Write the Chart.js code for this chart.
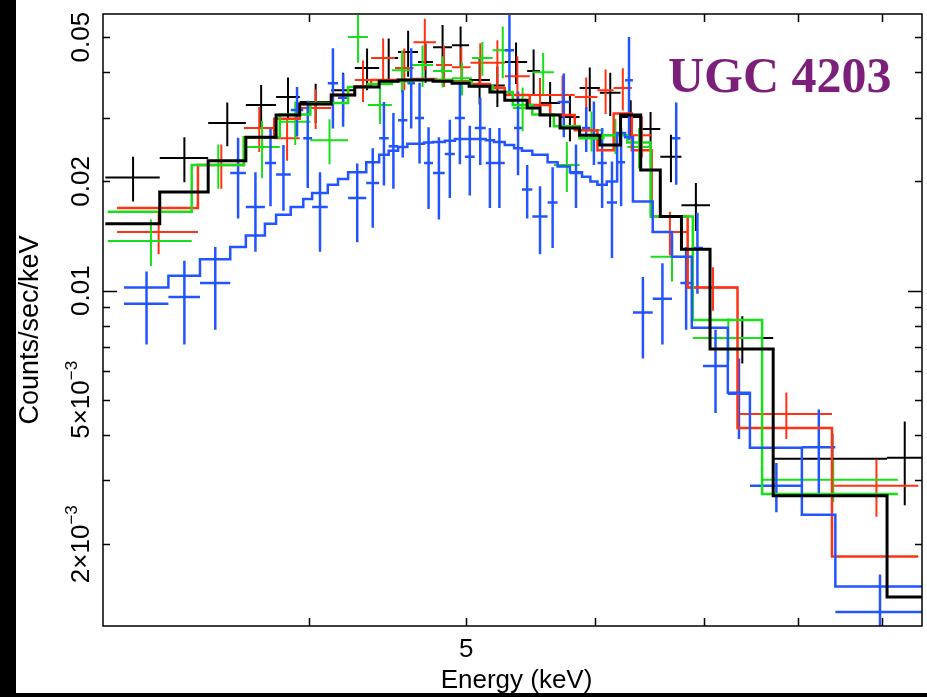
<!DOCTYPE html>
<html>
<head>
<meta charset="utf-8">
<title>UGC 4203</title>
<script src="https://cdn.jsdelivr.net/npm/chart.js@4.4.1/dist/chart.umd.min.js"></script>
<style>
    html, body { margin: 0; padding: 0; background: #000; width: 927px; height: 697px; overflow: hidden; }
    #wrap { position: absolute; left: 16px; top: 0; width: 911px; height: 693px; background: #fff; }
</style>
</head>
<body>
<div id="wrap"><canvas id="spectrum"></canvas></div>
<script>
// Energy bin edges (keV), count rates, errors and folded model per group
const blackEdges = [3.00, 3.24, 3.47, 3.66, 3.82, 3.95, 4.13, 4.27, 4.42, 4.54, 4.67, 4.77, 4.90, 5.02, 5.17, 5.28, 5.45, 5.55, 5.71, 5.87, 6.04, 6.22, 6.40, 6.58, 6.78, 7.06, 7.72, 9.07, 9.53];
const blackRate = [0.0205, 0.0232, 0.0290, 0.0325, 0.0342, 0.0331, 0.0357, 0.0411, 0.0438, 0.0455, 0.0427, 0.0469, 0.0475, 0.0381, 0.0368, 0.0427, 0.0403, 0.0329, 0.0301, 0.0362, 0.0351, 0.0301, 0.0279, 0.0234, 0.0172, 0.0074, 0.00344, 0.00346];
const blackErr = [0.0029, 0.0033, 0.0040, 0.0044, 0.0045, 0.0041, 0.0042, 0.0054, 0.0058, 0.0066, 0.0053, 0.0071, 0.0060, 0.0055, 0.0047, 0.0056, 0.0059, 0.0047, 0.0043, 0.0050, 0.0048, 0.0034, 0.0032, 0.0035, 0.0026, 0.0011, 0.0006, 0.0009];
const blackModel = [0.0153, 0.0187, 0.0228, 0.0265, 0.0305, 0.0327, 0.0346, 0.0364, 0.0378, 0.0381, 0.0381, 0.0378, 0.0373, 0.0366, 0.0353, 0.0335, 0.0319, 0.0305, 0.0281, 0.0268, 0.0252, 0.0305, 0.0215, 0.0160, 0.0130, 0.0069, 0.00272, 0.00143];

const redEdges = [3.05, 3.42, 3.65, 3.81, 3.95, 4.13, 4.27, 4.37, 4.52, 4.64, 4.79, 4.90, 5.03, 5.17, 5.28, 5.47, 5.63, 5.83, 6.02, 6.16, 6.32, 6.50, 6.84, 7.34, 8.39, 9.48];
const redRate = [0.0145, 0.0222, 0.0281, 0.0263, 0.0319, 0.0346, 0.0381, 0.0438, 0.0411, 0.0484, 0.0419, 0.0413, 0.0425, 0.0425, 0.0390, 0.0346, 0.0346, 0.0342, 0.0357, 0.0362, 0.0268, 0.0145, 0.0102, 0.00457, 0.0029];
const redErr = [0.0019, 0.0031, 0.0040, 0.0035, 0.0040, 0.0045, 0.0050, 0.0058, 0.0054, 0.0078, 0.0055, 0.0055, 0.0056, 0.0065, 0.0053, 0.0040, 0.0045, 0.0045, 0.0050, 0.0048, 0.0035, 0.0020, 0.0014, 0.00067, 0.00052];
const redModel = [0.0169, 0.0222, 0.0265, 0.0298, 0.0327, 0.0346, 0.0366, 0.0381, 0.0381, 0.0383, 0.0381, 0.0378, 0.0371, 0.0362, 0.0346, 0.0325, 0.0305, 0.0277, 0.0244, 0.0308, 0.0244, 0.0160, 0.0102, 0.00418, 0.00185];

const greenEdges = [3.01, 3.39, 3.65, 3.84, 4.01, 4.23, 4.35, 4.50, 4.63, 4.77, 4.90, 5.04, 5.19, 5.34, 5.49, 5.66, 5.87, 6.07, 6.28, 6.49, 6.89, 7.60, 9.21];
const greenRate = [0.0137, 0.0222, 0.0249, 0.0292, 0.0260, 0.0500, 0.0325, 0.0405, 0.0419, 0.0403, 0.0385, 0.0438, 0.0460, 0.0319, 0.0400, 0.0222, 0.0277, 0.0268, 0.0249, 0.0124, 0.0074, 0.00301];
const greenErr = [0.0020, 0.0031, 0.0045, 0.0040, 0.0037, 0.0075, 0.0037, 0.0054, 0.0055, 0.0040, 0.0040, 0.0047, 0.0075, 0.0044, 0.0052, 0.0035, 0.0035, 0.0030, 0.0032, 0.0018, 0.0010, 0.0004];
const greenModel = [0.0165, 0.0222, 0.0265, 0.0306, 0.0329, 0.0364, 0.0371, 0.0378, 0.0381, 0.0381, 0.0376, 0.0366, 0.0353, 0.0325, 0.0306, 0.0284, 0.0263, 0.0268, 0.0256, 0.0160, 0.0083, 0.00275];

const blueEdges = [3.08, 3.28, 3.43, 3.58, 3.66, 3.76, 3.82, 3.90, 3.97, 4.02, 4.11, 4.17, 4.23, 4.34, 4.42, 4.48, 4.54, 4.60, 4.65, 4.71, 4.77, 4.85, 4.92, 4.99, 5.06, 5.14, 5.20, 5.28, 5.35, 5.41, 5.49, 5.61, 5.69, 5.79, 5.89, 5.96, 6.02, 6.10, 6.19, 6.26, 6.33, 6.51, 6.69, 6.77, 6.88, 6.99, 7.24, 7.47, 8.04, 8.43, 9.53];
const blueRate = [0.0092, 0.0096, 0.0105, 0.0211, 0.0170, 0.0225, 0.0209, 0.0315, 0.0263, 0.0170, 0.0373, 0.0340, 0.0180, 0.0198, 0.0263, 0.0250, 0.0295, 0.0373, 0.0299, 0.0225, 0.0211, 0.0238, 0.0299, 0.0234, 0.0281, 0.0225, 0.0225, 0.0460, 0.0281, 0.0190, 0.0160, 0.0175, 0.0331, 0.0211, 0.0281, 0.0277, 0.0225, 0.0175, 0.0226, 0.0380, 0.0087, 0.0095, 0.0263, 0.0105, 0.0131, 0.0062, 0.0052, 0.0029, 0.0037, 0.0013];
const blueErr = [0.0021, 0.0025, 0.0027, 0.0053, 0.0042, 0.0054, 0.0043, 0.0049, 0.0071, 0.0042, 0.0093, 0.0057, 0.0044, 0.0049, 0.0068, 0.0059, 0.0062, 0.0093, 0.0075, 0.0057, 0.0054, 0.0058, 0.0076, 0.0051, 0.0059, 0.0056, 0.0056, 0.0115, 0.0073, 0.0032, 0.0034, 0.0044, 0.0066, 0.0042, 0.0040, 0.0055, 0.0056, 0.0052, 0.0055, 0.0120, 0.0022, 0.0024, 0.0067, 0.0027, 0.0033, 0.0016, 0.0013, 0.00045, 0.0010, 0.00035];
const blueModel = [0.0102, 0.0110, 0.0122, 0.0132, 0.0142, 0.0153, 0.0162, 0.0170, 0.0179, 0.0186, 0.0196, 0.0203, 0.0212, 0.0226, 0.0237, 0.0243, 0.0249, 0.0254, 0.0254, 0.0256, 0.0257, 0.0259, 0.0262, 0.0262, 0.0262, 0.0260, 0.0257, 0.0252, 0.0247, 0.0243, 0.0237, 0.0226, 0.0220, 0.0212, 0.0206, 0.0200, 0.0196, 0.0200, 0.0272, 0.0265, 0.0176, 0.0145, 0.0124, 0.0124, 0.0079, 0.0079, 0.00523, 0.00369, 0.00241, 0.00153];

// Axis ticks
const xTickVals = [4, 5, 6, 7, 8, 9];
const xTickText = ['', '5', '', '', '', ''];
const yTickVals = [0.002, 0.003, 0.004, 0.005, 0.006, 0.007, 0.008, 0.009, 0.01, 0.02, 0.03, 0.04, 0.05];
const yMajorVals = [0.01];
const yLabelVals = [0.05, 0.02, 0.01, 0.005, 0.002];
const yLabelText = ['0.05', '0.02', '0.01', '5\u00d710', '2\u00d710'];
const yLabelExp = ['', '', '', '\u22123', '\u22123'];

const SANS = '"Liberation Sans", Arial, sans-serif';

// data crosshairs: horizontal bar = bin width, vertical bar = error
function crosses(edges, rate, err) {
    const pts = [];
    rate.forEach((r, i) => {
        const lo = edges[i], hi = edges[i + 1], mid = (lo + hi) / 2;
        pts.push({x: lo, y: r}, {x: hi, y: r}, {x: hi, y: null});
        pts.push({x: mid, y: r - err[i]}, {x: mid, y: r + err[i]}, {x: mid, y: null});
    });
    return pts;
}

// model histogram
function steps(edges, model) {
    const pts = model.map((m, i) => ({x: edges[i], y: m}));
    pts.push({x: edges[edges.length - 1], y: model[model.length - 1]});
    return pts;
}

function dataSet(edges, rate, err, color, width, order) {
    return {
        data: crosses(edges, rate, err),
        borderColor: color, borderWidth: width, pointRadius: 0,
        spanGaps: false, order: order
    };
}

function modelSet(edges, model, color, width, order) {
    return {
        data: steps(edges, model),
        borderColor: color, borderWidth: width, pointRadius: 0,
        stepped: true, order: order
    };
}

// frame, inward ticks, labels and titles
const framePlugin = {
    id: 'frame',
    afterDatasetsDraw(chart) {
        const ctx = chart.ctx;
        const a = chart.chartArea;
        const xs = chart.scales.x, ys = chart.scales.y;
        ctx.save();
        ctx.strokeStyle = '#000';
        ctx.lineWidth = 1.5;
        ctx.strokeRect(a.left, a.top, a.right - a.left, a.bottom - a.top);

        ctx.beginPath();
        xTickVals.forEach(v => {
            const px = Math.round(xs.getPixelForValue(v)) + 0.5;
            ctx.moveTo(px, a.bottom); ctx.lineTo(px, a.bottom - 8);
            ctx.moveTo(px, a.top); ctx.lineTo(px, a.top + 8);
        });
        yTickVals.forEach(v => {
            const py = Math.round(ys.getPixelForValue(v)) + 0.5;
            const len = yMajorVals.includes(v) ? 14 : 7;
            ctx.moveTo(a.left, py); ctx.lineTo(a.left + len, py);
            ctx.moveTo(a.right, py); ctx.lineTo(a.right - len, py);
        });
        ctx.stroke();

        ctx.fillStyle = '#000';
        ctx.font = '26px ' + SANS;
        ctx.textAlign = 'center';
        ctx.textBaseline = 'alphabetic';
        xTickVals.forEach((v, i) => {
            if (xTickText[i]) ctx.fillText(xTickText[i], xs.getPixelForValue(v), a.bottom + 31);
        });
        ctx.fillText('Energy (keV)', (a.left + a.right) / 2 + 4, a.bottom + 62);

        // rotated y labels
        yLabelVals.forEach((v, i) => {
            const py = ys.getPixelForValue(v);
            ctx.save();
            ctx.translate(a.left - 14, py);
            ctx.rotate(-Math.PI / 2);
            ctx.font = '26px ' + SANS;
            const wMain = ctx.measureText(yLabelText[i]).width;
            ctx.font = '17px ' + SANS;
            const wExp = yLabelExp[i] ? ctx.measureText(yLabelExp[i]).width : 0;
            const x0 = -(wMain + wExp) / 2;
            ctx.textAlign = 'left';
            ctx.font = '26px ' + SANS;
            ctx.fillText(yLabelText[i], x0, 0);
            if (yLabelExp[i]) {
                ctx.font = '17px ' + SANS;
                ctx.fillText(yLabelExp[i], x0 + wMain, -12);
            }
            ctx.restore();
        });

        ctx.save();
        ctx.translate(22, (a.top + a.bottom) / 2 + 10);
        ctx.rotate(-Math.PI / 2);
        ctx.font = '27px ' + SANS;
        ctx.textAlign = 'center';
        ctx.fillText('Counts/sec/keV', 0, 0);
        ctx.restore();

        ctx.font = 'bold 50px "Liberation Serif", "Times New Roman", serif';
        ctx.fillStyle = '#7b1f7a';
        ctx.textAlign = 'left';
        ctx.fillText('UGC 4203', 652, 92);
        ctx.restore();
    }
};

document.addEventListener('DOMContentLoaded', function() {
    const ctx = document.getElementById('spectrum');
    new Chart(ctx, {
        type: 'line',
        data: {
            datasets: [
                dataSet(blackEdges, blackRate, blackErr, '#000000', 2, 8),
                dataSet(redEdges, redRate, redErr, '#ff3314', 2, 7),
                dataSet(greenEdges, greenRate, greenErr, '#18e018', 2, 6),
                dataSet(blueEdges, blueRate, blueErr, '#2255ff', 2.5, 5),
                modelSet(redEdges, redModel, '#ff3314', 2.5, 4),
                modelSet(greenEdges, greenModel, '#18e018', 2.5, 3),
                modelSet(blueEdges, blueModel, '#2255ff', 2.5, 2),
                modelSet(blackEdges, blackModel, '#000000', 3, 1)
            ]
        },
        options: {
            responsive: true,
            maintainAspectRatio: false,
            animation: false,
            events: [],
            layout: { padding: { left: 87, right: 5, top: 14, bottom: 67 } },
            plugins: { legend: { display: false }, tooltip: { enabled: false } },
            scales: {
                x: { type: 'logarithmic', min: 2.99, max: 9.53, display: false },
                y: { type: 'logarithmic', min: 0.00119, max: 0.0579, display: false }
            }
        },
        plugins: [framePlugin]
    });
});
</script>
</body>
</html>
